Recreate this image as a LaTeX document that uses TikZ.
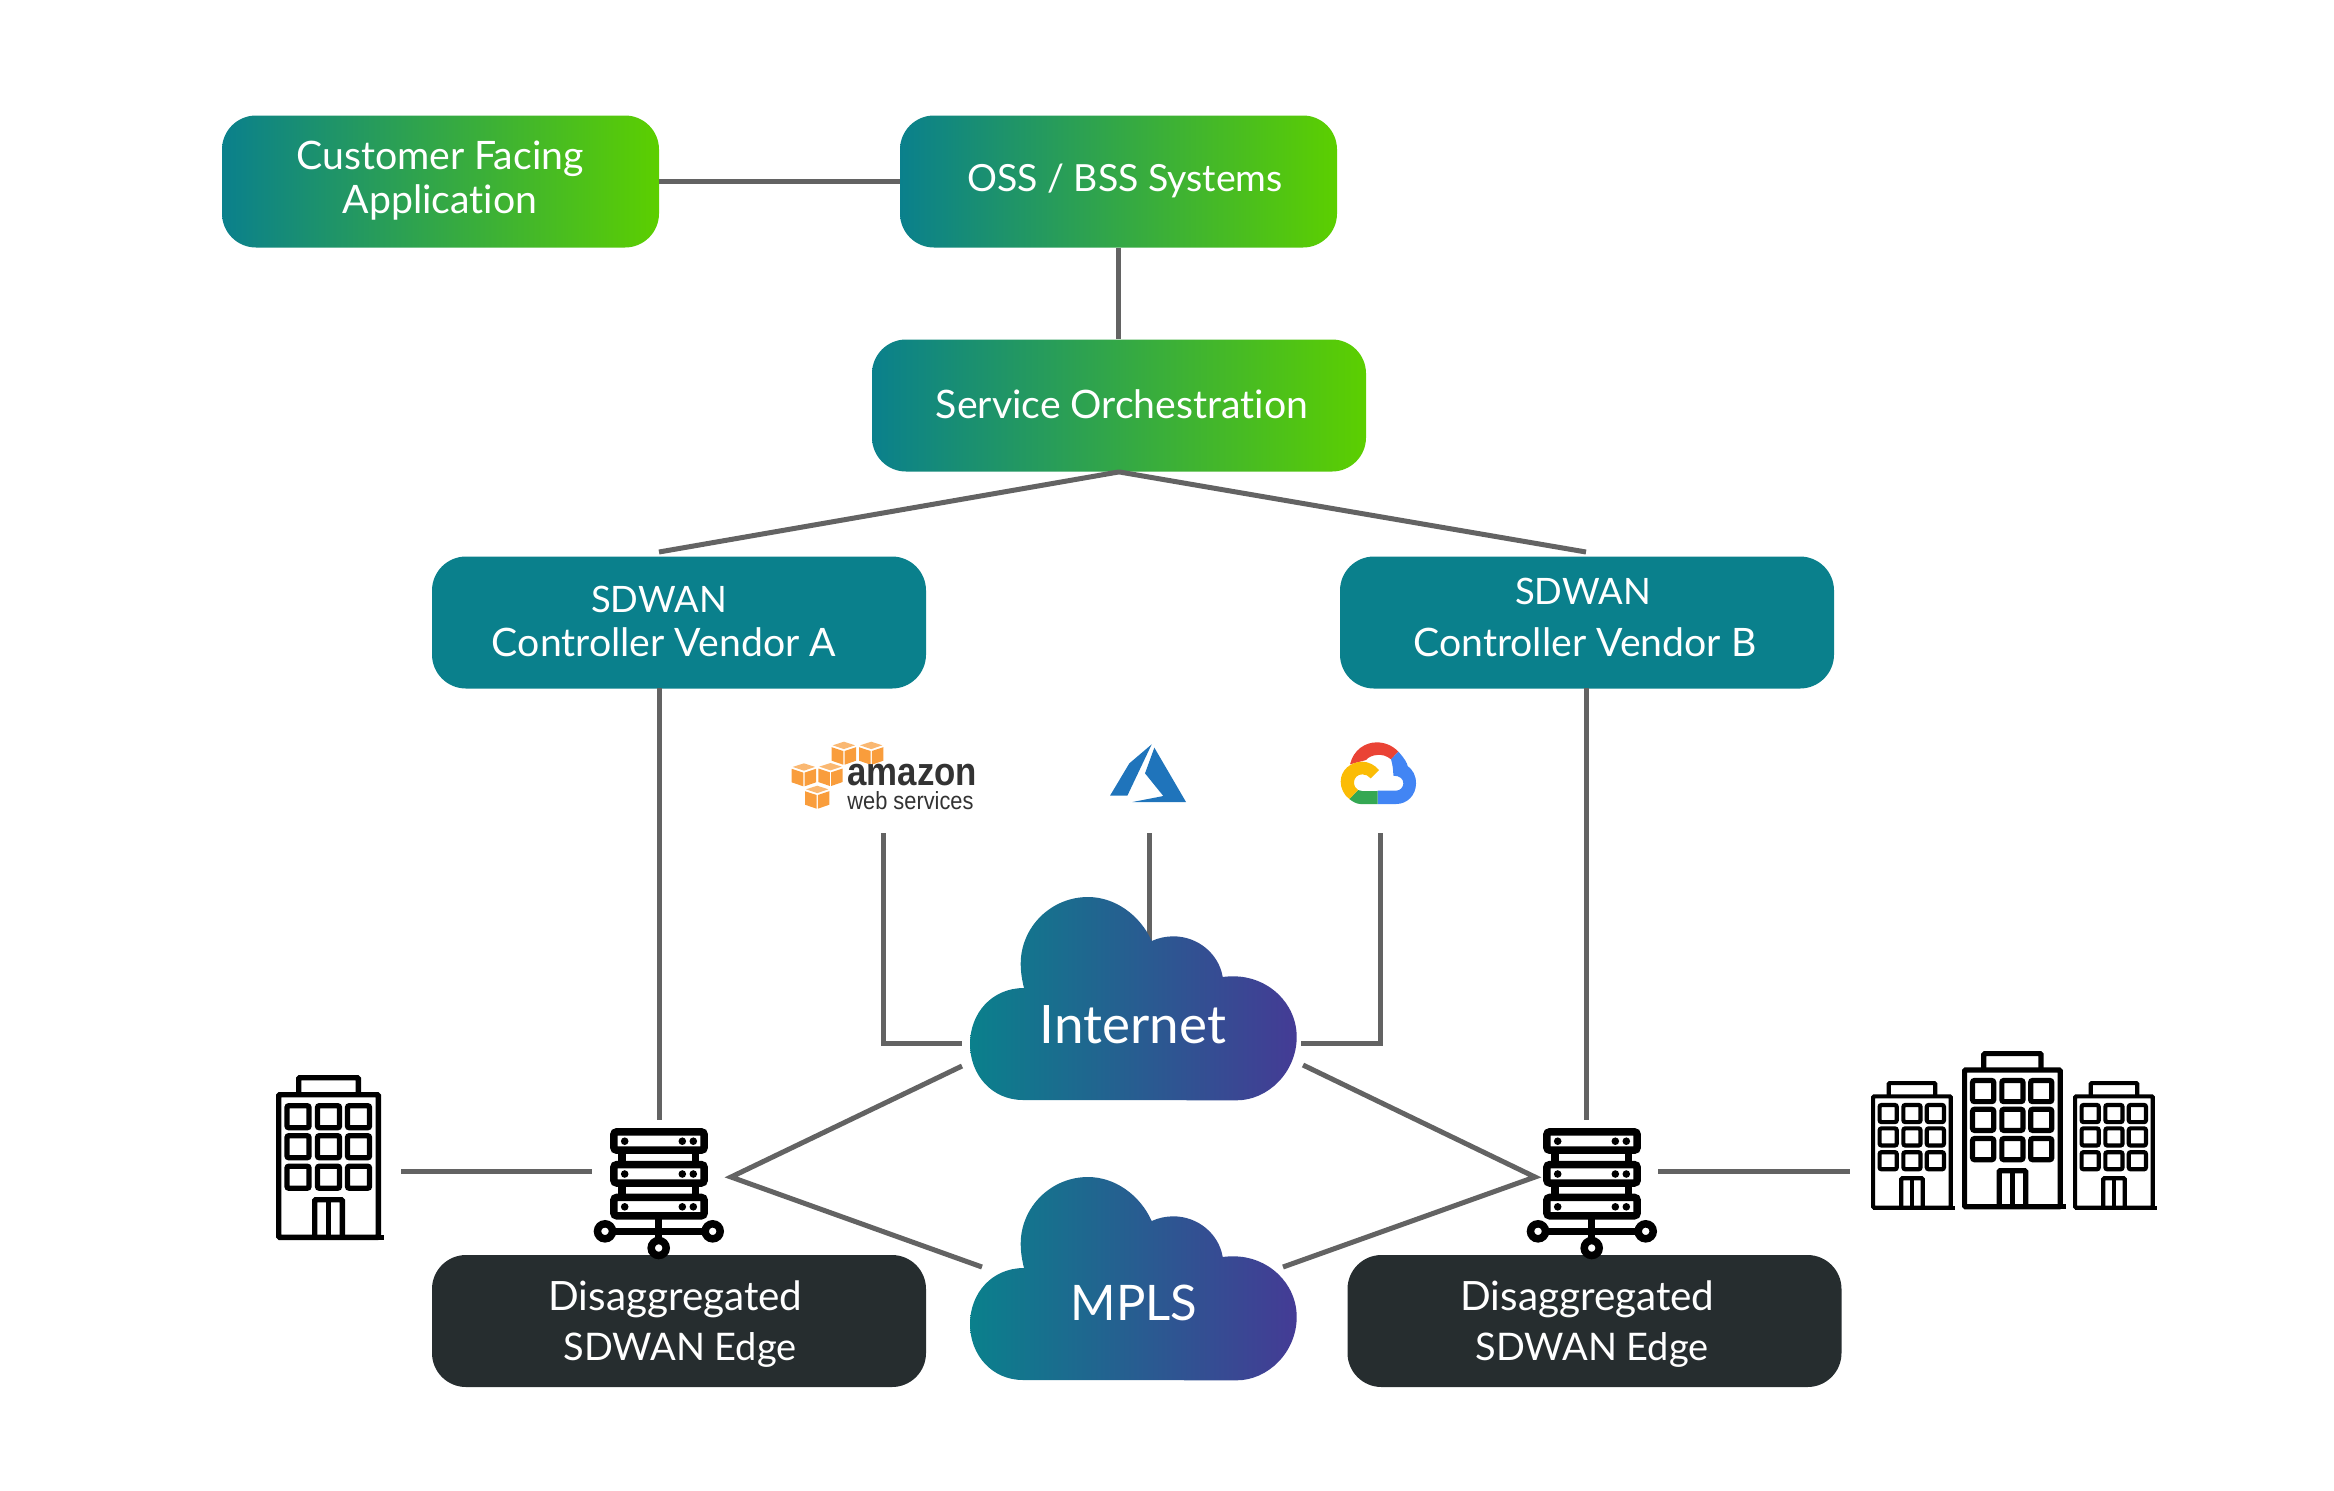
\documentclass[tikz,border=0pt]{standalone}
\usepackage{fontspec}
\setmainfont[Ligatures=NoCommon]{Lato}
\newfontfamily\logofont[FakeStretch=.88]{Liberation Sans}
\usetikzlibrary{positioning}

\definecolor{teal}{HTML}{0A808C}
\definecolor{leaf}{HTML}{5CCF00}
\definecolor{violet}{HTML}{443B95}
\definecolor{slate}{HTML}{262D2F}
\definecolor{wire}{HTML}{636363}
\definecolor{awsorange}{HTML}{F99D3C}
\definecolor{awstop}{HTML}{FBC48A}
\definecolor{awsgrey}{HTML}{333333}
\definecolor{azureblue}{HTML}{1F74BB}
\definecolor{gred}{HTML}{EA4335}
\definecolor{gblue}{HTML}{4285F4}
\definecolor{ggreen}{HTML}{34A853}
\definecolor{gyellow}{HTML}{FBBC05}

\newcommand{\capsword}[1]{{\fontsize{18.2}{22}\selectfont #1}}
\newcommand{\edgeword}[1]{{\fontsize{19}{22}\selectfont #1}}

\begin{document}
\begin{tikzpicture}[
  x=.5pt, y=-.5pt,
  box/.style     = {rounded corners=17pt, inner sep=0pt, minimum height=66pt},
  wide/.style    = {box, minimum width=247pt},
  narrow/.style  = {box, minimum width=218.5pt},
  glow/.style    = {left color=teal, right color=leaf},
  vendor/.style  = {wide, fill=teal},
  edge/.style    = {wide, fill=slate},
  lbl/.style     = {text=white, align=center, inner sep=0pt,
                    font=\fontsize{19.6}{22}\selectfont},
  cloudlbl/.style = {text=white, inner sep=0pt, font=\fontsize{26.5}{30}\selectfont},
  link/.style    = {wire, line width=2.5pt},
  % a cloud outline, 327 wide and 203 high
  cloudshape/.pic = {
    \path[left color=teal, right color=violet]
      (53,203) .. controls (22,203) and (0,178) .. (0,147)
      .. controls (0,116) and (22,91) .. (54,91)
      .. controls (52,83) and (50.7,75) .. (50.7,66.7)
      .. controls (50.7,30) and (81,0) .. (118,0)
      .. controls (145,0) and (170,18) .. (181.7,44)
      .. controls (188,41) and (196,39.3) .. (203.3,39.3)
      .. controls (228,39.3) and (249,57) .. (252.7,80)
      .. controls (256,79.5) and (260,79.3) .. (263.3,79.3)
      .. controls (298,79.3) and (326.7,106) .. (326.7,140)
      .. controls (326.7,175) and (298,203.3) .. (266.7,203.3) -- cycle;
  },
  % an office block, 105 wide and 165 high at scale 1
  building/.pic = {
    \draw[rounded corners=.5pt] (2.7,19.7) rectangle (102.3,162.3);
    \draw (2.7,162.3) -- (108,162.3);
    \draw[rounded corners=.5pt] (22.7,19.7) -- (22.7,2.7) -- (82.3,2.7) -- (82.3,19.7);
    \foreach \wx in {11,41.5,71.5} \foreach \wy in {30.7,60.7,91.2}
      \draw[rounded corners=1pt] (\wx,\wy) rectangle ++(22,22);
    \draw[rounded corners=.5pt] (38.7,162) -- (38.7,124.7) -- (66.3,124.7) -- (66.3,162);
    \draw (52.5,124.7) -- (52.5,162);
  },
  % three stacked racks on a small network foot
  server/.pic = {
    \foreach \rx in {12,85.3} \draw (\rx,20) -- (\rx,70);
    \foreach \ry in {0,32.8,65.6} {
      \draw[fill=white, rounded corners=1.5pt] (3.8,\ry+3.8) rectangle (94.2,\ry+22.2);
      \foreach \dx in {14.7,72.3,83.3} \fill (\dx,\ry+13.2) circle (1.9pt);
    }
    \draw (48.7,90) -- (48.7,120);
    \draw (-5,103.3) -- (102.7,103.3);
    \foreach \cx/\cy in {-5/103.3,102.7/103.3,48.7/120}
      \draw[fill=white] (\cx,\cy) circle (3.75pt);
  },
  awscube/.pic = {
    \fill[awsorange] (0,5.5) -- (11.6,9.3) -- (11.6,23) -- (0,19) -- cycle;
    \fill[awsorange] (24.3,5.5) -- (12.8,9.3) -- (12.8,23) -- (24.3,19) -- cycle;
    \fill[awstop!70!awsorange] (1,3.6) -- (12.2,0) -- (23.4,3.6) -- (12.2,7.4) -- cycle;
  },
]
  \useasboundingbox (0,0) rectangle (2334,1490);

  \node[narrow, glow] (customer) at (440.5,181.5) {};
  \node[narrow, glow] (oss) at (1118.5,181.5) {};
  \node[wide, glow] (orch) at (1119,405.5) {};
  \node[vendor] (vendora) at (679,622.5) {};
  \node[vendor] (vendorb) at (1587,622.5) {};
  \node[edge] (edgea) at (679,1321) {};
  \node[edge] (edgeb) at (1594.5,1321) {};

  \node[lbl] (customerlbl) at (440,181) {Customer Facing\\Application};
  \node[lbl, font=\fontsize{18.7}{22}\selectfont] (osslbl) at (1125,181) {OSS / BSS Systems};
  \node[lbl] (orchlbl) at (1122,404) {Service Orchestration};
  \node[lbl] (vendoralbl) at (664,621) {\capsword{SDWAN}\hspace*{5pt}\\Controller Vendor A};
  \node[lbl] (vendorblbl) at (1585,617) {\capsword{SDWAN}\hspace*{2pt}\\[4pt]Controller Vendor B};
  \node[lbl, font=\fontsize{20.2}{22}\selectfont] (edgealbl) at (677,1324)
    {Disaggregated\hspace*{1.5pt}\\[3pt]\hspace*{3pt}\edgeword{SDWAN Edge}};
  \node[lbl, font=\fontsize{20.2}{22}\selectfont] (edgeblbl) at (1589,1324)
    {Disaggregated\hspace*{1.5pt}\\[3pt]\hspace*{3pt}\edgeword{SDWAN Edge}};

  % free ends of the connectors
  \coordinate (vendoratop) at (659,552);
  \coordinate (vendorbtop) at (1586,552);
  \coordinate (vendoradown) at (659,688);
  \coordinate (vendorbdown) at (1586.7,688);
  \coordinate (servera) at (659,1120);
  \coordinate (serverb) at (1586.7,1120);
  \coordinate (apexa) at (731,1177);
  \coordinate (apexb) at (1535,1177);
  \coordinate (siteaend) at (401,1171);
  \coordinate (serverawest) at (592,1171);
  \coordinate (serverbeast) at (1658,1171);
  \coordinate (sitebend) at (1850,1171);
  \coordinate (awsend) at (883,833);
  \coordinate (azureend) at (1149.5,833);
  \coordinate (googleend) at (1380,833);
  \coordinate (inetwest) at (962,1043);
  \coordinate (ineteast) at (1301,1043);
  \coordinate (inetnorth) at (1149.5,950);
  \coordinate (inetsw) at (962,1066);
  \coordinate (inetse) at (1303,1065);
  \coordinate (mplsw) at (982,1267);
  \coordinate (mplse) at (1283,1267);

  \draw[link] (customer) -- (oss);
  \draw[link] (oss) -- (oss |- orch.north);
  \draw[link] (orch.south) -- (vendoratop);
  \draw[link] (orch.south) -- (vendorbtop);
  \draw[link] (vendoradown) -- (servera);
  \draw[link] (vendorbdown) -- (serverb);
  \draw[link] (awsend) |- (inetwest);
  \draw[link] (azureend) -- (inetnorth);
  \draw[link] (googleend) |- (ineteast);
  \draw[link] (inetsw) -- (apexa) -- (mplsw);
  \draw[link] (inetse) -- (apexb) -- (mplse);
  \draw[link] (siteaend) -- (serverawest);
  \draw[link] (serverbeast) -- (sitebend);

  % clouds
  \pic at (970,897) {cloudshape};
  \pic at (970,1177) {cloudshape};
  \node[cloudlbl] (internet) at (1133,1025) {Internet};
  \node[cloudlbl, font=\fontsize{24.5}{30}\selectfont] (mpls) at (1134,1303) {MPLS};

  % sites and edge devices
  \pic[line width=2.7pt] at (276,1075) {building};
  \pic[line width=2.6pt, scale=.96] at (1962,1051) {building};
  \pic[line width=2.1pt, scale=.78] at (1871,1081) {building};
  \pic[line width=2.1pt, scale=.78] at (2073,1081) {building};
  \pic[line width=3.75pt] at (610,1128) {server};
  \pic[line width=3.75pt] at (1543,1128) {server};

  % aws logo
  \foreach \ax/\ay in {831.7/741.7,859/741.7,791.7/763.3,818.3/763,805/785.7}
    \pic at (\ax,\ay) {awscube};
  \node[text=awsgrey, inner sep=0pt, anchor=west, align=left, font=\logofont] (aws) at (847,787)
    {{\bfseries\fontsize{19.8}{11}\selectfont amazon}\\
     {\fontsize{12.4}{11}\selectfont web services}};

  % azure logo
  \begin{scope}[shift={(1100,735)}, x=.1667pt, y=-.1667pt]
    \fill[azureblue] (155,28) -- (88,85) -- (30,182) -- (82,182) -- cycle;
    \fill[azureblue] (163,38) -- (135,115) -- (190,183) -- (97,201) -- (258,201) -- cycle;
  \end{scope}

  % google cloud logo
  \begin{scope}[shift={(1330,735)}, x=.1667pt, y=-.1667pt]
    \fill[gred] (60,88) .. controls (70,45) and (105,22) .. (140,22)
      .. controls (165,22) and (188,32) .. (205,50) -- (183,73)
      .. controls (170,62) and (155,58) .. (140,60)
      .. controls (128,61) and (115,66) .. (108,75) -- cycle;
    \fill[gblue] (205,50) .. controls (222,68) and (232,85) .. (233,93)
      .. controls (248,105) and (258,120) .. (258,145)
      .. controls (258,180) and (232,207) .. (198,207) -- (143,207) -- (143,167) -- (198,167)
      .. controls (210,167) and (220,157) .. (220,145)
      .. controls (220,132) and (210,122) .. (190,122)
      .. controls (190,105) and (187,85) .. (183,73) -- cycle;
    \fill[ggreen] (143,207) -- (92,207) .. controls (80,207) and (68,200) .. (58,192)
      -- (84,165) .. controls (88,167) and (92,168) .. (97,168) -- (143,168) -- cycle;
    \fill[gyellow] (58,192) .. controls (42,180) and (32,160) .. (32,140)
      .. controls (32,105) and (62,80) .. (97,80)
      .. controls (115,80) and (135,90) .. (147,105) -- (122,130)
      .. controls (115,122) and (107,118) .. (97,118)
      .. controls (83,118) and (72,128) .. (72,142)
      .. controls (72,153) and (77,160) .. (84,165) -- cycle;
  \end{scope}
\end{tikzpicture}
\end{document}
